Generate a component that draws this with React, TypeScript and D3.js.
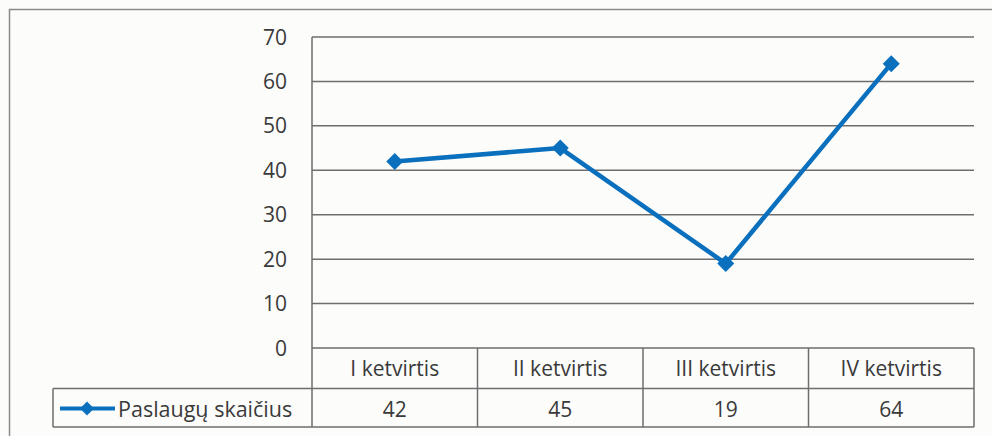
import React from "react";
import * as d3 from "d3";

// data
const quarters = ["I ketvirtis", "II ketvirtis", "III ketvirtis", "IV ketvirtis"];
const services = [42, 45, 19, 64];
const yTicks = [0, 10, 20, 30, 40, 50, 60, 70];
const seriesName = "Paslaugų skaičius";

const width = 992;
const height = 436;
const plot = { left: 312, right: 974, top: 37, bottom: 348 };
const rowH = 40.5;
const legendLeft = 53;

const font = "'Open Sans', Lato, sans-serif";
const textColor = "#3a3a3a";
const gridColor = "#6e6e6e";
const blue = "#0a70bd";

export default function App() {
  const x = d3.scaleBand<string>().domain(quarters).range([plot.left, plot.right]);
  const y = d3.scaleLinear().domain([0, 70]).range([plot.bottom, plot.top]);

  const line = d3
    .line<number>()
    .x((d, i) => (x(quarters[i]) as number) + x.bandwidth() / 2)
    .y((d) => y(d));

  const row1Top = plot.bottom;
  const row2Top = plot.bottom + rowH;
  const tableBottom = row2Top + rowH - 2;

  const diamond = (cx: number, cy: number, r: number) =>
    `M${cx},${cy - r}L${cx + r},${cy}L${cx},${cy + r}L${cx - r},${cy}Z`;

  return (
    <svg
      width={width}
      height={height}
      style={{ position: "absolute", left: 0, top: 0, background: "#fcfcfb" }}
    >
      {/* outer chart border */}
      <rect x={9.5} y={9.5} width={width + 10} height={height + 10} fill="none" stroke="#8a8a8a" strokeWidth={1.5} />

      {/* gridlines + value labels */}
      {yTicks.map((t) => (
        <g key={t}>
          <line x1={plot.left} x2={plot.right} y1={y(t)} y2={y(t)} stroke={gridColor} strokeWidth={1.5} />
          <text
            x={287}
            y={y(t) + 7.5}
            textAnchor="end"
            fontFamily={font}
            fontSize={21}
            fill={textColor}
          >
            {t}
          </text>
        </g>
      ))}
      {/* value axis line */}
      <line x1={plot.left} x2={plot.left} y1={plot.top} y2={tableBottom} stroke={gridColor} strokeWidth={1.5} />

      {/* data table */}
      <line x1={legendLeft} x2={plot.right} y1={row2Top} y2={row2Top} stroke={gridColor} strokeWidth={1.5} />
      <line x1={legendLeft} x2={plot.right} y1={tableBottom} y2={tableBottom} stroke={gridColor} strokeWidth={1.5} />
      <line x1={legendLeft} x2={legendLeft} y1={row2Top} y2={tableBottom} stroke={gridColor} strokeWidth={1.5} />
      {quarters.map((q, i) => {
        const x0 = x(q) as number;
        const cx = x0 + x.bandwidth() / 2;
        return (
          <g key={q}>
            <line
              x1={x0 + x.bandwidth()}
              x2={x0 + x.bandwidth()}
              y1={row1Top}
              y2={tableBottom}
              stroke={gridColor}
              strokeWidth={1.5}
            />
            <text x={cx} y={row1Top + 28} textAnchor="middle" fontFamily={font} fontSize={21} fill={textColor}>
              {q}
            </text>
            <text x={cx} y={row2Top + 28} textAnchor="middle" fontFamily={font} fontSize={21} fill={textColor}>
              {services[i]}
            </text>
          </g>
        );
      })}

      {/* legend key */}
      <line x1={60} x2={115} y1={row2Top + 20} y2={row2Top + 20} stroke={blue} strokeWidth={4} />
      <path d={diamond(87, row2Top + 20, 7)} fill={blue} />
      <text x={118} y={row2Top + 28} fontFamily={font} fontSize={21.5} fill={textColor}>
        {seriesName}
      </text>

      {/* series */}
      <path d={line(services) as string} fill="none" stroke={blue} strokeWidth={4.5} strokeLinejoin="round" />
      {services.map((v, i) => (
        <path
          key={i}
          d={diamond((x(quarters[i]) as number) + x.bandwidth() / 2, y(v), 8.5)}
          fill={blue}
        />
      ))}
    </svg>
  );
}
